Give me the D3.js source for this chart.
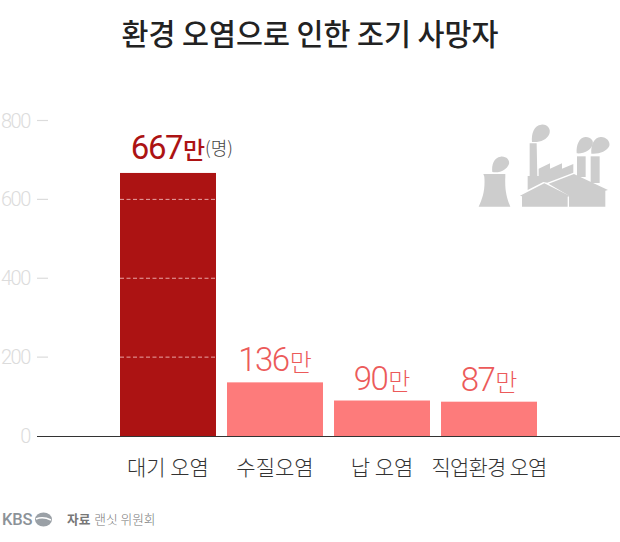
<!DOCTYPE html>
<html>
<head>
<meta charset="utf-8">
<script src="https://cdn.jsdelivr.net/npm/d3@7"></script>
<style>
html, body { margin: 0; padding: 0; background: #fff; }
svg { display: block; }
text { font-family: Roboto, "Noto Sans CJK KR", sans-serif; }
.kr { font-family: "Noto Sans CJK KR", sans-serif; }
</style>
</head>
<body>
<svg id="chart" width="620" height="542"></svg>
<script>
const categories = ['대기 오염', '수질오염', '납 오염', '직업환경 오염'];
const values = [667, 136, 90, 87];
const yTicks = [0, 200, 400, 600, 800];
const barColors = ['#ac1313', '#fd7b7b', '#fd7b7b', '#fd7b7b'];
const labelColors = ['#ac1313', '#ec5a5a', '#ec5a5a', '#ec5a5a'];

const svg = d3.select('#chart');
const x = d3.scaleBand().domain(categories).range([120, 537]).paddingInner(0.103).paddingOuter(0);
const y = d3.scaleLinear().domain([0, 800]).range([436, 120.5]);

svg.append('text').attr('class', 'kr').attr('x', 310).attr('y', 45)
  .attr('text-anchor', 'middle').attr('font-size', 29.3).attr('font-weight', 500)
  .attr('fill', '#222').text('환경 오염으로 인한 조기 사망자');

// y axis: light labels with short ticks
const yAxis = svg.append('g');
yAxis.selectAll('text').data(yTicks).join('text')
  .attr('x', 30).attr('y', d => y(d) + 7).attr('text-anchor', 'end')
  .attr('font-size', 20).attr('font-weight', 300).attr('letter-spacing', -1.4)
  .attr('fill', '#dcdcdc').text(d => d);
yAxis.selectAll('line').data(yTicks.filter(d => d > 0)).join('line')
  .attr('x1', 37).attr('x2', 48).attr('y1', d => y(d)).attr('y2', d => y(d))
  .attr('stroke', '#dcdcdc').attr('stroke-width', 1.2);

svg.append('g').selectAll('rect').data(values).join('rect')
  .attr('x', (d, i) => x(categories[i])).attr('width', x.bandwidth())
  .attr('y', d => y(d)).attr('height', d => y(0) - y(d))
  .attr('fill', (d, i) => barColors[i]);

// dashed gridlines showing through the big bar
svg.append('g').selectAll('line').data(yTicks.filter(d => d > 0 && d < values[0])).join('line')
  .attr('x1', x(categories[0])).attr('x2', x(categories[0]) + x.bandwidth())
  .attr('y1', d => y(d)).attr('y2', d => y(d))
  .attr('stroke', '#e8a5a5').attr('stroke-width', 1).attr('stroke-dasharray', '4 2.5');

svg.append('line').attr('x1', 37).attr('x2', 620).attr('y1', y(0) + 0.5).attr('y2', y(0) + 0.5)
  .attr('stroke', '#333').attr('stroke-width', 1.2);

// value labels
const labels = svg.append('g').selectAll('text').data(values).join('text')
  .attr('x', (d, i) => x(categories[i]) + x.bandwidth() / 2)
  .attr('y', (d, i) => y(d) - (i === 0 ? 13.5 : 11)).attr('text-anchor', 'middle')
  .attr('fill', (d, i) => labelColors[i]).attr('font-size', 33);
labels.append('tspan').attr('font-weight', (d, i) => i === 0 ? 400 : 300).attr('letter-spacing', -1.5).text(d => d);
labels.append('tspan').attr('class', 'kr').attr('dx', 1).attr('font-size', 24).attr('font-weight', (d, i) => i === 0 ? 500 : 300).text('만');
svg.append('text').attr('class', 'kr').attr('x', 205).attr('y', 155)
  .attr('font-size', 18).attr('font-weight', 300).attr('fill', '#444').text('(명)');

svg.append('g').selectAll('text').data(categories).join('text')
  .attr('class', 'kr').attr('x', d => x(d) + x.bandwidth() / 2).attr('y', 475)
  .attr('text-anchor', 'middle').attr('font-size', 21).attr('font-weight', 300)
  .attr('letter-spacing', d => d.length > 6 ? -0.8 : 0)
  .attr('fill', '#333').text(d => d);

// factory icon, drawn in the 3x crop's own coordinates
const icon = svg.append('g').attr('transform', 'translate(460,110) scale(0.3333)').attr('fill', '#cdcdcd');
icon.append('path').attr('d', 'M70,192 L136,192 L136,200 C134,240 140,265 151,290 L56,290 C68,265 76,240 73,200 Z');
icon.append('path').attr('d', 'M97,186 C94,165 102,142 122,140 C138,138 150,150 147,162 C140,180 120,190 97,186 Z');
icon.append('path').attr('d', 'M216,96 C214,70 222,46 244,44 C262,42 274,58 268,72 C260,90 240,98 216,96 Z');
icon.append('path').attr('d', 'M350,130 C348,105 358,82 376,81 C392,80 402,92 398,104 C392,120 372,132 350,130 Z');
icon.append('path').attr('d', 'M394,131 C392,105 402,82 422,81 C438,80 452,94 448,108 C440,124 418,133 394,131 Z');
icon.append('path').attr('d', 'M209,100 L230,100 L232,198 L236,198 L236,176 L270,160 L270,176 L306,160 L306,176 L340,162 L340,188 L262,218 L250,216 L203,240 L203,198 L209,198 Z');
icon.append('rect').attr('x', 351).attr('y', 139).attr('width', 26).attr('height', 62);
icon.append('rect').attr('x', 392).attr('y', 139).attr('width', 27).attr('height', 80);
icon.append('path').attr('d', 'M266,221 L342,192 L444,240 L436,242 L436,290 L327,290 L327,257 Z');
icon.append('path').attr('d', 'M180,257 L253,220 L330,258 L323,260 L323,290 L186,290 L186,259 Z');

// footer
svg.append('text').attr('x', 2).attr('y', 525).attr('font-size', 16.5).attr('font-weight', 500)
  .attr('letter-spacing', -0.2).attr('fill', '#8c9298').text('KBS');
svg.append('ellipse').attr('cx', 43.5).attr('cy', 519.5).attr('rx', 8.5).attr('ry', 7).attr('fill', '#9aa0a6');
svg.append('path').attr('d', 'M36,519 Q43,516 51,520').attr('fill', 'none').attr('stroke', '#fff').attr('stroke-width', 1.5);
const source = svg.append('text').attr('class', 'kr').attr('x', 67).attr('y', 524)
  .attr('font-size', 12.7).attr('fill', '#777');
source.append('tspan').attr('font-weight', 700).text('자료');
source.append('tspan').attr('dx', 4).attr('font-weight', 300).text('랜싯 위원회');
</script>
</body>
</html>
